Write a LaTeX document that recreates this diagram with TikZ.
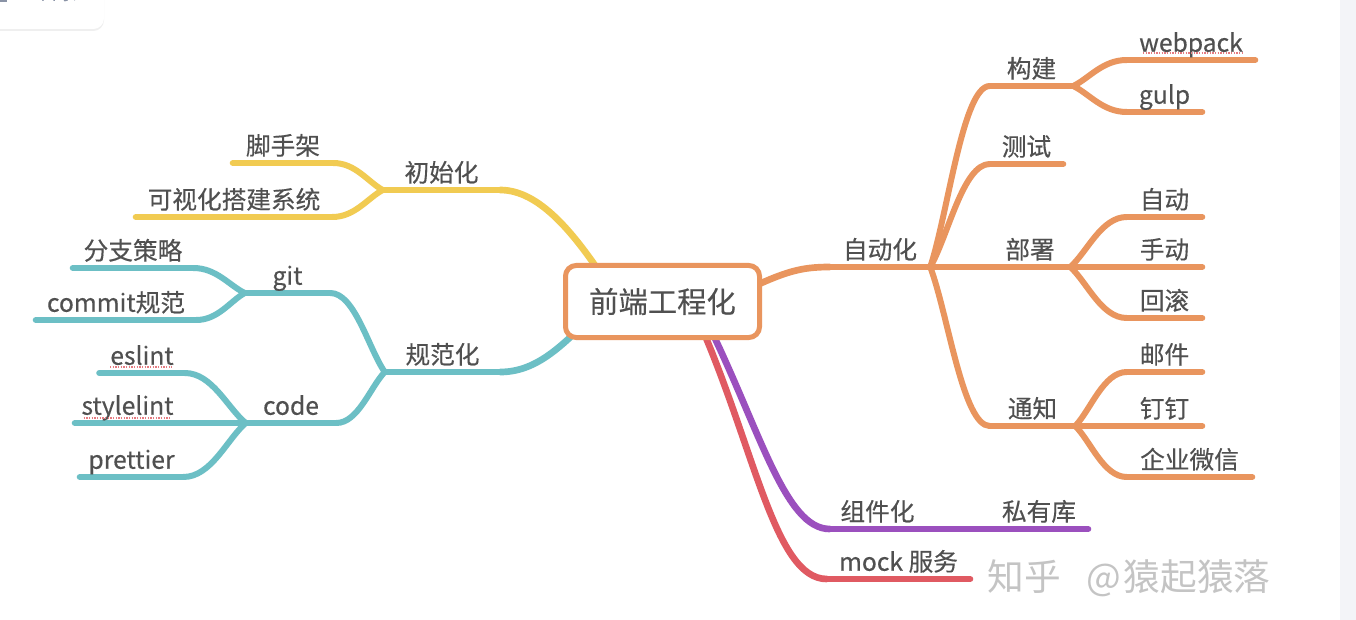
\documentclass[tikz,border=0pt]{standalone}
\usepackage{fontspec}
\setmainfont{Noto Sans CJK SC}[FakeBold=0.35]
\newfontfamily\wmfont{Noto Sans CJK SC}
\usetikzlibrary{calc,shadows}
\definecolor{orangeC}{HTML}{E9955E}
\definecolor{yellowC}{HTML}{F1CB52}
\definecolor{tealC}{HTML}{6CBFC5}
\definecolor{purpleC}{HTML}{9B50BE}
\definecolor{redC}{HTML}{E05A62}
\definecolor{txtC}{HTML}{505050}
\definecolor{stripeC}{HTML}{F3F4F8}
\definecolor{wmC}{HTML}{C4C4C4}
\definecolor{tocC}{HTML}{8A93A6}
\pgfdeclarelayer{bg}
\pgfdeclarelayer{lines}
\pgfsetlayers{bg,lines,main}
\newcommand\mmcurve[3]{\draw[lnk,#1] (#2) .. controls ($(#2)!0.3!(#3)$) and ($(#3)!0.45!(#2|-#3)$) .. (#3);}
\newcommand\mmseg[2]{\draw[lnk,#1] (#2.south west) -- (#2.south east);}
\begin{document}
\begin{tikzpicture}[x=0.75pt,y=-0.75pt,
  lbl/.style={anchor=south, minimum width=#1*0.75pt, inner xsep=0pt, inner ysep=1.5pt,
    text height=13.5pt, text depth=4.5pt, font=\fontsize{18.5}{22}\selectfont, text=txtC},
  lnk/.style={line width=4.5pt, line cap=round},
  mainlnk/.style={line width=5pt, line cap=round},
  rootbox/.style={draw=orangeC, line width=3.75pt, rounded corners=8pt, fill=white,
    minimum width=145.5pt, minimum height=54pt, inner sep=0pt,
    font=\fontsize{22}{26}\selectfont, text=txtC},
  squiggle/.style={draw=redC!80, line width=0.9pt, dash pattern=on 1pt off 1pt}
]
\useasboundingbox (0,0) rectangle (1356,620);
\begin{pgfonlayer}{bg}
  \fill[white] (0,0) rectangle (1356,620);
  \fill[stripeC] (1340,0) rectangle (1356,620);
  \fill[white, rounded corners=8pt, drop shadow={opacity=0.12, shadow xshift=0pt, shadow yshift=-1.5pt}] (-30,-30) rectangle (104,29);
  \fill[tocC] (0,-6) rectangle (7,2);
\end{pgfonlayer}
\node[font=\fontsize{14}{16}\selectfont, text=tocC] (toc) at (58,-7) {目录};

% root
\node[rootbox] (root) at (662.5,301.5) {前端工程化};

% right side
\node[lbl=100] (zdh) at (880,267) {自动化};
\node[lbl=83] (gj) at (1031.5,86) {构建};
\node[lbl=73] (cs) at (1026.5,164) {测试};
\node[lbl=80] (bs) at (1030,267) {部署};
\node[lbl=85] (tz) at (1032.5,426) {通知};
\node[lbl=128] (webpack) at (1191,60) {webpack};
\node[lbl=75] (gulp) at (1164.5,112) {gulp};
\node[lbl=75] (zd) at (1164.5,217) {自动};
\node[lbl=75] (sd) at (1164.5,267) {手动};
\node[lbl=75] (hg) at (1164.5,318) {回滚};
\node[lbl=75] (yj) at (1164.5,372) {邮件};
\node[lbl=75] (dd) at (1164.5,426) {钉钉};
\node[lbl=125] (qywx) at (1189.5,477) {企业微信};
\node[lbl=95] (zjh) at (877.5,529) {组件化};
\node[lbl=98] (syk) at (1039,529) {私有库};
\node[lbl=143] (mock) at (898.5,579) {mock 服务};

% left side
\node[lbl=117] (csh) at (441.5,190) {初始化};
\node[lbl=100] (jsj) at (283,163) {脚手架};
\node[lbl=196] (ksh) at (234,217) {可视化搭建系统};
\node[lbl=115] (gfh) at (442.5,372) {规范化};
\node[lbl=85] (git) at (287.5,293) {git};
\node[lbl=120] (fzcl) at (133,268) {分支策略};
\node[lbl=160] (commit) at (116,320) {commit规范};
\node[lbl=90] (code) at (291,423) {code};
\node[lbl=85] (eslint) at (142,373) {eslint};
\node[lbl=105] (stylelint) at (127.5,423) {stylelint};
\node[lbl=103] (prettier) at (131.5,477) {prettier};

% spell-check squiggles
\draw[squiggle] ($(webpack.south)+(-48,-7)$) -- ($(webpack.south)+(52,-7)$);
\draw[squiggle] ($(eslint.south)+(-32,-6)$) -- ($(eslint.south)+(30,-6)$);
\draw[squiggle] ($(stylelint.south)+(-44,-5)$) -- ($(stylelint.south)+(44,-5)$);

% watermark
\node[font=\wmfont\fontsize{27.5}{30}\selectfont, text=wmC, anchor=west] (wm) at (983,578) {知乎\hspace{19pt}@\hspace{2pt}猿起猿落};

\begin{pgfonlayer}{lines}
  % main branches from root
  \draw[mainlnk,orangeC] ($(root.east)+(-15,-12)$) .. controls (785,272) and (800,267) .. (zdh.south west);
  \draw[mainlnk,yellowC] ($(root.north west)+(42,17)$) .. controls (575,235) and (540,190) .. (csh.south east);
  \draw[mainlnk,tealC] ($(root.south west)+(27,-22)$) .. controls (560,348) and (535,372) .. (gfh.south east);
  \draw[mainlnk,redC] ($(root.south)+(38,-15)$) .. controls (755,450) and (775,579) .. (mock.south west);
  \draw[mainlnk,purpleC] ($(root.south)+(46,-15)$) .. controls (760,430) and (785,529) .. (zjh.south west);
  % segments
  \foreach \n in {zdh,gj,cs,bs,tz,webpack,gulp,zd,sd,hg,yj,dd,qywx} {\mmseg{orangeC}{\n}}
  \mmseg{purpleC}{zjh}
  \mmseg{purpleC}{syk}
  \mmseg{redC}{mock}
  \foreach \n in {csh,jsj,ksh} {\mmseg{yellowC}{\n}}
  \foreach \n in {gfh,git,fzcl,commit,code,eslint,stylelint,prettier} {\mmseg{tealC}{\n}}
  % right connectors
  \mmcurve{orangeC}{zdh.south east}{gj.south west}
  \mmcurve{orangeC}{zdh.south east}{cs.south west}
  \draw[lnk,orangeC] (zdh.south east) -- (bs.south west);
  \mmcurve{orangeC}{zdh.south east}{tz.south west}
  \mmcurve{orangeC}{gj.south east}{webpack.south west}
  \mmcurve{orangeC}{gj.south east}{gulp.south west}
  \mmcurve{orangeC}{bs.south east}{zd.south west}
  \draw[lnk,orangeC] (bs.south east) -- (sd.south west);
  \mmcurve{orangeC}{bs.south east}{hg.south west}
  \mmcurve{orangeC}{tz.south east}{yj.south west}
  \draw[lnk,orangeC] (tz.south east) -- (dd.south west);
  \mmcurve{orangeC}{tz.south east}{qywx.south west}
  \draw[lnk,purpleC] (zjh.south east) -- (syk.south west);
  % left connectors
  \mmcurve{yellowC}{csh.south west}{jsj.south east}
  \mmcurve{yellowC}{csh.south west}{ksh.south east}
  \mmcurve{tealC}{gfh.south west}{git.south east}
  \mmcurve{tealC}{gfh.south west}{code.south east}
  \mmcurve{tealC}{git.south west}{fzcl.south east}
  \mmcurve{tealC}{git.south west}{commit.south east}
  \mmcurve{tealC}{code.south west}{eslint.south east}
  \draw[lnk,tealC] (code.south west) -- (stylelint.south east);
  \mmcurve{tealC}{code.south west}{prettier.south east}
\end{pgfonlayer}
\end{tikzpicture}
\end{document}
